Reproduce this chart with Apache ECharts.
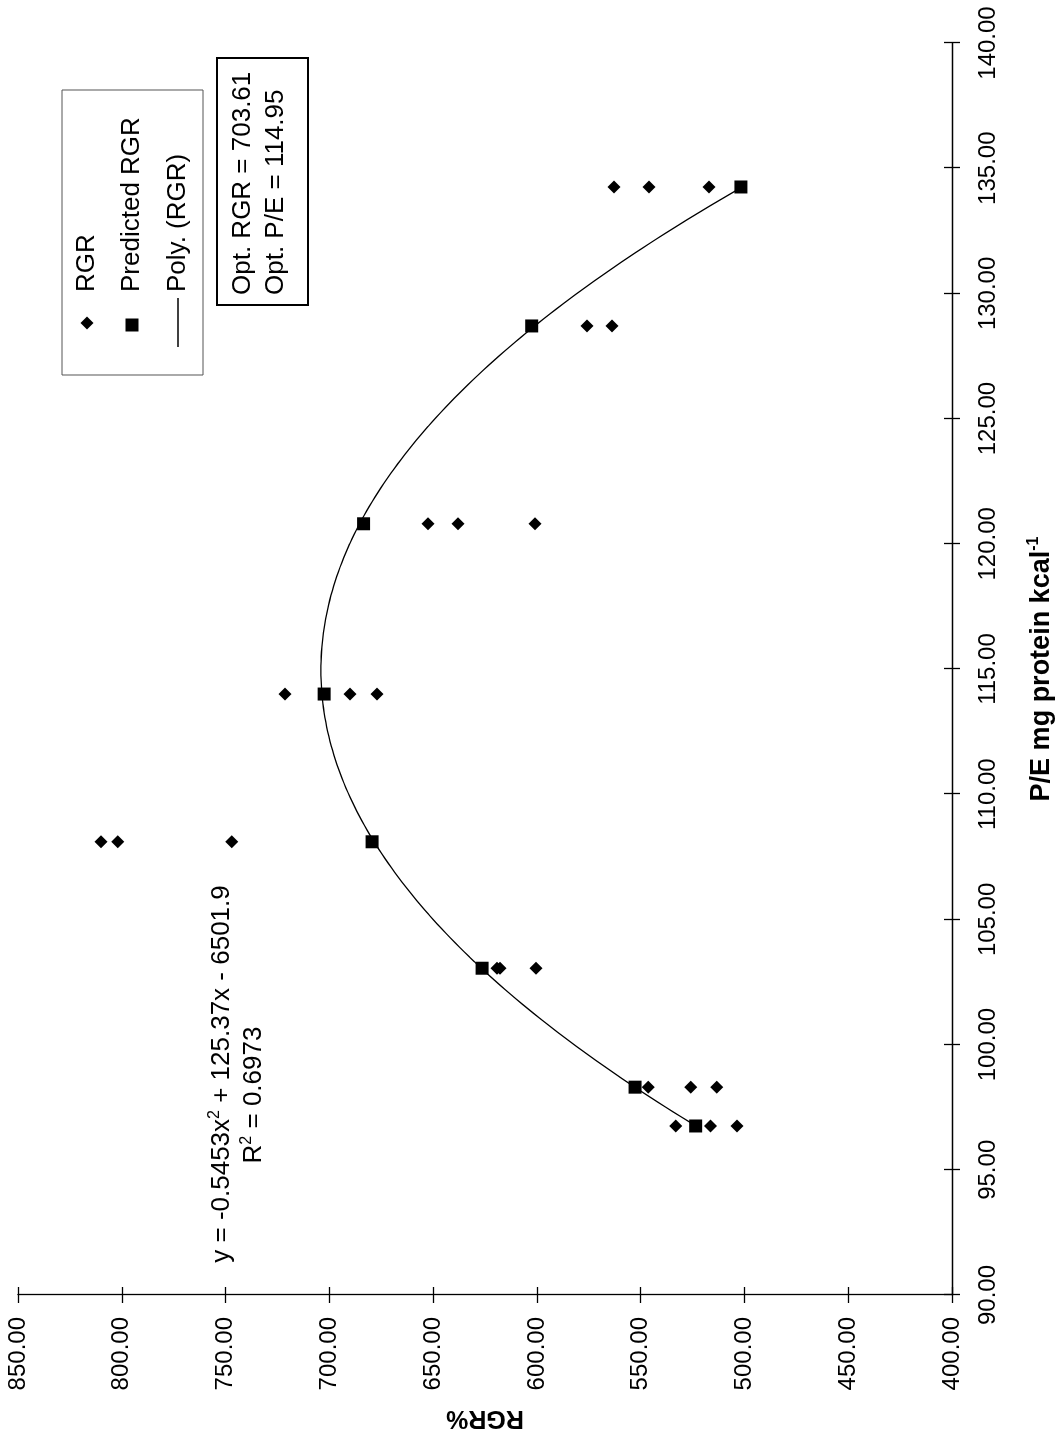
<!DOCTYPE html>
<html>
<head>
<meta charset="utf-8">
<script src="https://cdn.jsdelivr.net/npm/echarts@6/dist/echarts.min.js"></script>
<style>
  html, body { margin: 0; padding: 0; background: #fff; overflow: hidden; width: 1061px; height: 1440px; }
  /* chart is laid out landscape and turned a quarter turn counter-clockwise */
  #chart { position: absolute; left: 0; top: 0; width: 1440px; height: 1061px;
           transform-origin: 0 0; transform: translateY(1440px) rotate(-90deg); }
</style>
</head>
<body>
<div id="chart"></div>
<script>
// protein/energy ratio of each diet (mg protein kcal^-1)
const peLevels = [96.75, 98.3, 103.05, 108.1, 114.0, 120.8, 128.7, 134.25];
// observed relative growth rate, replicates per diet
const rgrObserved = [
  [533.1, 516.4, 503.6],
  [546.3, 525.9, 513.4],
  [619.2, 617.8, 600.4],
  [810.0, 802.0, 747.0],
  [721.4, 690.0, 677.0],
  [652.5, 638.0, 600.9],
  [575.9, 563.8],
  [562.8, 546.0, 517.1]
];
// RGR predicted by the quadratic fit
const rgrPredicted = [523.5, 552.7, 626.4, 679.4, 702.5, 683.5, 602.5, 501.7];
// quadratic trendline coefficients: a*x^2 + b*x + c
const polyCoef = [-0.5453, 125.37, -6501.9];
const peAxis = [90, 140, 5];
const rgrAxis = [400, 850, 50];
const legendNames = ['RGR', 'Predicted RGR', 'Poly. (RGR)'];
const equationText = ['y = -0.5453x', '2', ' + 125.37x - 6501.9'];
const r2Text = ['R', '2', ' = 0.6973'];
const optText = ['Opt. RGR = 703.61', 'Opt. P/E = 114.95'];

const FONT = "'Liberation Sans', Arial, sans-serif";

const observedPts = [];
peLevels.forEach((pe, i) => rgrObserved[i].forEach(v => observedPts.push([pe, v])));
const predictedPts = peLevels.map((pe, i) => [pe, rgrPredicted[i]]);
const trendPts = [];
const x0 = peLevels[0], x1 = peLevels[peLevels.length - 1];
for (let k = 0; k <= 200; k++) {
  const x = x0 + (x1 - x0) * k / 200;
  trendPts.push([x, polyCoef[0] * x * x + polyCoef[1] * x + polyCoef[2]]);
}

const fmt2 = v => v.toFixed(2);
const axisLine = { show: true, lineStyle: { color: '#000', width: 1.3 } };

function valueAxis(range, extra) {
  return Object.assign({
    type: 'value', min: range[0], max: range[1], interval: range[2],
    splitLine: { show: false }
  }, extra);
}

// legend box drawn as plain shapes (x runs along P/E, y along RGR before the page turn)
const LG = { x: 1065, y: 62, w: 285, h: 141, iconX: 1117, textX: 1148, rows: [87, 132, 178] };
const legendGraphics = [
  { type: 'rect', shape: { x: LG.x, y: LG.y, width: LG.w, height: LG.h },
    style: { fill: '#fff', stroke: '#555', lineWidth: 1 }, z: 10 },
  { type: 'polygon', z: 11,
    shape: { points: [[LG.iconX, LG.rows[0] - 6.5], [LG.iconX + 6.5, LG.rows[0]], [LG.iconX, LG.rows[0] + 6.5], [LG.iconX - 6.5, LG.rows[0]]] },
    style: { fill: '#000' } },
  { type: 'rect', z: 11, shape: { x: LG.iconX - 8.5, y: LG.rows[1] - 6.5, width: 13, height: 13 }, style: { fill: '#000' } },
  { type: 'line', z: 11, shape: { x1: LG.iconX - 24, y1: LG.rows[2], x2: LG.iconX + 25, y2: LG.rows[2] },
    style: { stroke: '#000', lineWidth: 1.3 } }
].concat(legendNames.map((t, i) => ({
  type: 'text', x: LG.textX, y: LG.rows[i], z: 11,
  style: { text: t, font: '26px ' + FONT, fill: '#000', textVerticalAlign: 'middle' }
})));

const chart = echarts.init(document.getElementById('chart'), null, { renderer: 'canvas' });
chart.setOption({
  backgroundColor: '#fff',
  animation: false,
  textStyle: { fontFamily: FONT, color: '#000' },
  grid: { left: 145, right: 43, top: 18, bottom: 109, outerBoundsMode: 'none' },
  xAxis: [
    valueAxis(peAxis, {
      position: 'bottom',
      axisLine: axisLine,
      axisTick: { show: true, inside: false, length: 8, lineStyle: { color: '#000', width: 1.3 } },
      axisLabel: { formatter: fmt2, fontSize: 24, color: '#000', margin: 24, fontFamily: FONT },
      name: '{b|P/E mg protein kcal}{s|-1}',
      nameLocation: 'middle', nameGap: 74,
      nameTextStyle: {
        rich: {
          b: { fontSize: 27, fontWeight: 'bold', fontFamily: FONT, color: '#000' },
          s: { fontSize: 16, fontWeight: 'bold', fontFamily: FONT, color: '#000', padding: [0, 0, 15, 0] }
        }
      }
    }),
    valueAxis(peAxis, {
      position: 'bottom',
      axisLine: { show: false },
      axisTick: { show: true, inside: true, length: 8, lineStyle: { color: '#000', width: 1.3 } },
      axisLabel: { show: false }
    })
  ],
  yAxis: [
    valueAxis(rgrAxis, {
      position: 'left',
      axisLine: axisLine,
      axisTick: { show: true, inside: false, length: 8, lineStyle: { color: '#000', width: 1.3 } },
      axisLabel: { formatter: fmt2, fontSize: 24, color: '#000', margin: 22, fontFamily: FONT },
      name: 'RGR%', nameLocation: 'middle', nameGap: 110,
      nameTextStyle: { fontSize: 25, fontWeight: 'bold', fontFamily: FONT, color: '#000' }
    }),
    valueAxis(rgrAxis, {
      position: 'left',
      axisLine: { show: false },
      axisTick: { show: true, inside: true, length: 8, lineStyle: { color: '#000', width: 1.3 } },
      axisLabel: { show: false }
    })
  ],
  series: [
    {
      name: legendNames[2], type: 'line', data: trendPts, showSymbol: false, symbol: 'none',
      lineStyle: { color: '#000', width: 1.3 }, itemStyle: { color: '#000' }, z: 2, silent: true
    },
    {
      name: legendNames[0], type: 'scatter', data: observedPts, symbol: 'diamond', symbolSize: 13,
      itemStyle: { color: '#000', opacity: 1 }, z: 3
    },
    {
      name: legendNames[1], type: 'scatter', data: predictedPts, symbol: 'rect', symbolSize: 13,
      itemStyle: { color: '#000', opacity: 1 }, z: 4
    }
  ],
  graphic: legendGraphics.concat([
    {
      type: 'rect', shape: { x: 1135, y: 217, width: 247, height: 91 },
      style: { fill: '#fff', stroke: '#000', lineWidth: 2 }, z: 10
    },
    {
      type: 'text', x: 1145, y: 243, z: 11,
      style: { text: optText[0], font: '26px ' + FONT, fill: '#000', textVerticalAlign: 'middle' }
    },
    {
      type: 'text', x: 1145, y: 276, z: 11,
      style: { text: optText[1], font: '26px ' + FONT, fill: '#000', textVerticalAlign: 'middle' }
    },
    {
      type: 'text', x: 366, y: 222, z: 11,
      style: {
        text: '{n|' + equationText[0] + '}{s|' + equationText[1] + '}{n|' + equationText[2] + '}',
        align: 'center', verticalAlign: 'middle',
        rich: {
          n: { fontSize: 26, fontFamily: FONT, fill: '#000' },
          s: { fontSize: 16, fontFamily: FONT, fill: '#000', padding: [0, 0, 14, 0] }
        }
      }
    },
    {
      type: 'text', x: 345, y: 254, z: 11,
      style: {
        text: '{n|' + r2Text[0] + '}{s|' + r2Text[1] + '}{n|' + r2Text[2] + '}',
        align: 'center', verticalAlign: 'middle',
        rich: {
          n: { fontSize: 26, fontFamily: FONT, fill: '#000' },
          s: { fontSize: 16, fontFamily: FONT, fill: '#000', padding: [0, 0, 14, 0] }
        }
      }
    }
  ])
});
</script>
</body>
</html>
